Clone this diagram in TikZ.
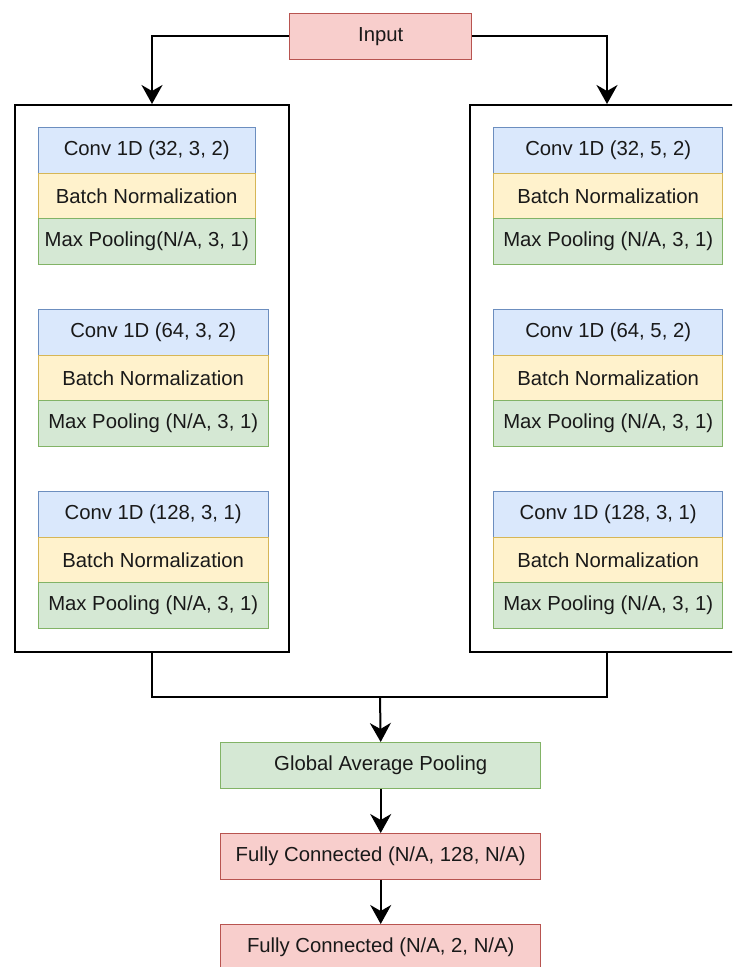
\documentclass[tikz,border=0pt]{standalone}
\usepackage{fontspec}
\setmainfont{Liberation Sans}
\usetikzlibrary{calc, arrows.meta}
\definecolor{convfill}{HTML}{DAE8FC}\definecolor{convline}{HTML}{6C8EBF}
\definecolor{bnfill}{HTML}{FFF2CC}\definecolor{bnline}{HTML}{D6B656}
\definecolor{poolfill}{HTML}{D5E8D4}\definecolor{poolline}{HTML}{82B366}
\definecolor{fcfill}{HTML}{F8CECC}\definecolor{fcline}{HTML}{B85450}
\tikzset{
    layer/.style={draw, line width=1.4pt, inner sep=0pt, minimum height=45.5pt, anchor=north west,
        text=black!90, font=\fontsize{20.3}{24}\selectfont},
    conv/.style={layer, fill=convfill, draw=convline},
    bn/.style={layer, fill=bnfill, draw=bnline},
    pool/.style={layer, fill=poolfill, draw=poolline},
    fc/.style={layer, fill=fcfill, draw=fcline},
    branch/.style={draw, line width=2pt, minimum width=274pt, minimum height=547pt, anchor=north},
    link/.style={line width=2pt},
    arr/.style={link, -{Stealth[length=19pt, width=21pt, inset=6pt]}}
}

\begin{document}
\begin{tikzpicture}[x=1pt, y=-1pt]
                \clip (0,0) rectangle (732,967);
                \node[fc, minimum width=182pt] (input) at (289,13) {Input};
                \node[branch] (lbox) at (152,104) {};
                \node[branch] (rbox) at (607,104) {};
                \foreach \g/\y/\w/\lconv/\lpool/\rconv in {a/127/217/{Conv 1D (32, 3, 2)}/{Max Pooling(N/A, 3, 1)}/{Conv 1D (32, 5, 2)},
                        b/309/230/{Conv 1D (64, 3, 2)}/{Max Pooling (N/A, 3, 1)}/{Conv 1D (64, 5, 2)},
                        c/491/230/{Conv 1D (128, 3, 1)}/{Max Pooling (N/A, 3, 1)}/{Conv 1D (128, 3, 1)}}{
                    \node[conv, minimum width=\w pt] (lconv\g) at (37.5,\y) {\lconv};
                    \node[bn, minimum width=\w pt] (lbn\g) at (37.5,\y+45.5) {Batch Normalization};
                    \node[pool, minimum width=\w pt] (lpool\g) at (37.5,\y+91) {\lpool};
                    \node[conv, minimum width=229pt] (rconv\g) at (493,\y) {\rconv};
                    \node[bn, minimum width=229pt] (rbn\g) at (493,\y+45.5) {Batch Normalization};
                    \node[pool, minimum width=229pt] (rpool\g) at (493,\y+91) {Max Pooling (N/A, 3, 1)};
                }
                \node[pool, minimum width=320pt] (gap) at (220,742) {Global Average Pooling};
                \node[fc, minimum width=320pt] (fca) at (220,833) {Fully Connected (N/A, 128, N/A)};
                \node[fc, minimum width=320pt] (fcb) at (220,924) {Fully Connected (N/A, 2, N/A)};
                \coordinate (merge) at (380,697);
                \draw[arr] (input.west) -| (lbox.north);
                \draw[arr] (input.east) -| (rbox.north);
                \draw[link] (lbox.south) |- (merge) -| (rbox.south);
                \draw[arr] (merge) -- (gap.north);
                \draw[arr] (gap) -- (fca);
                \draw[arr] (fca) -- (fcb);
            \end{tikzpicture}
\end{document}
